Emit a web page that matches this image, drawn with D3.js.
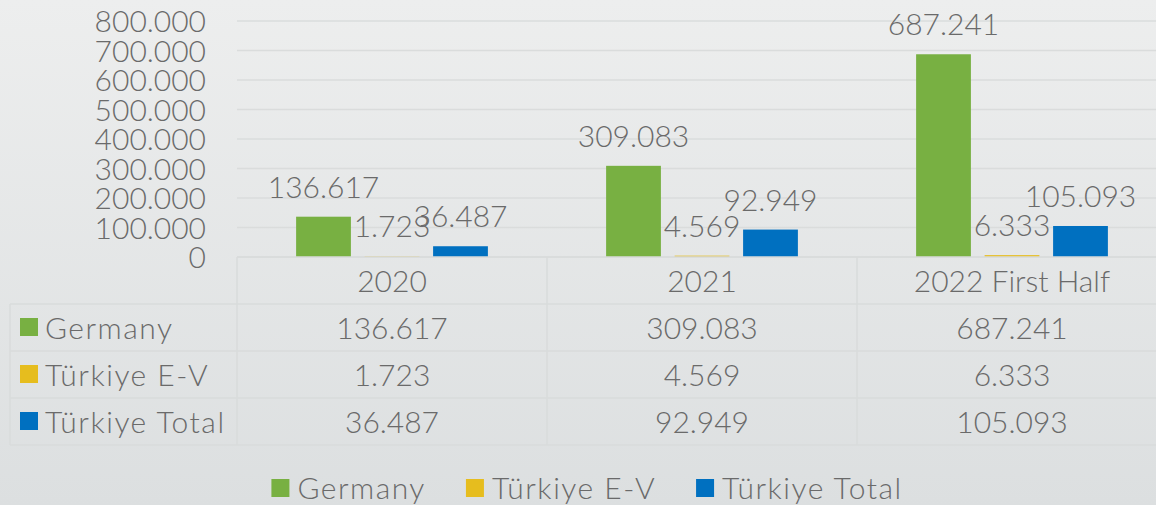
<!DOCTYPE html>
<html>
<head>
<meta charset="utf-8">
<script src="https://cdn.jsdelivr.net/npm/d3@7"></script>
<style>
  html, body { margin: 0; padding: 0; overflow: hidden; }
  text { font-family: Lato, "Open Sans", sans-serif; font-weight: 300; fill: #6a6a6a; }
  .name { letter-spacing: 1.5px; }
</style>
</head>
<body>
<div id="chart"></div>
<script>
// data
const categories = ["2020", "2021", "2022 First Half"];
const seriesNames = ["Germany", "Türkiye E-V", "Türkiye Total"];
const germany = [136617, 309083, 687241];
const turkiyeEV = [1723, 4569, 6333];
const turkiyeTotal = [36487, 92949, 105093];
const yTicks = [0, 100000, 200000, 300000, 400000, 500000, 600000, 700000, 800000];
const colors = ["#78b042", "#e6bd1e", "#0070c0"];

const seriesValues = [germany, turkiyeEV, turkiyeTotal];

const width = 1156, height = 505;
const plotLeft = 237, plotRight = 1167, plotTop = 21, plotBottom = 257;
const rowH = 47, tableLeft = 10;

const fmt = d3.formatLocale({decimal: ",", thousands: ".", grouping: [3], currency: ["", ""]}).format(",");

const svg = d3.select("#chart")
    .append("svg")
    .attr("width", width)
    .attr("height", height);

// background
const grad = svg.append("defs").append("linearGradient")
    .attr("id", "bg").attr("x1", 0).attr("y1", 0).attr("x2", 0).attr("y2", 1);
grad.append("stop").attr("offset", "0%").attr("stop-color", "#edeeee");
grad.append("stop").attr("offset", "100%").attr("stop-color", "#dcdfe0");
svg.append("rect").attr("width", width).attr("height", height).attr("fill", "url(#bg)");

// scales
const x0 = d3.scaleBand()
    .domain(categories)
    .range([plotLeft, plotRight]);

const x1 = d3.scaleBand()
    .domain(seriesNames)
    .range([0, x0.bandwidth()])
    .paddingInner(0.2)
    .paddingOuter(0.863);

const y = d3.scaleLinear()
    .domain([0, 800000])
    .range([plotBottom, plotTop]);

// gridlines
svg.append("g")
    .selectAll("line")
    .data(yTicks)
    .join("line")
    .attr("x1", plotLeft)
    .attr("x2", plotRight)
    .attr("y1", d => y(d))
    .attr("y2", d => y(d))
    .attr("stroke", "#dadcdc")
    .attr("stroke-width", 1.5);

// y labels
svg.append("g")
    .selectAll("text")
    .data(yTicks)
    .join("text")
    .attr("x", 206)
    .attr("y", d => y(d) + 11)
    .attr("text-anchor", "end")
    .style("font-size", "30px")
    .text(d => fmt(d));

// table data rows
const rows = seriesNames.map((name, i) => ({name: name, color: colors[i], values: seriesValues[i]}));

// bars
const groups = svg.append("g")
    .selectAll("g")
    .data(rows)
    .join("g")
    .attr("fill", d => d.color);

groups.selectAll("rect")
    .data(d => d.values.map((v, j) => ({name: d.name, cat: categories[j], value: v})))
    .join("rect")
    .attr("x", d => x0(d.cat) + x1(d.name))
    .attr("width", x1.bandwidth())
    .attr("y", d => y(d.value))
    .attr("height", d => plotBottom - y(d.value));

// data labels
groups.selectAll("text")
    .data(d => d.values.map((v, j) => ({name: d.name, cat: categories[j], value: v})))
    .join("text")
    .attr("x", d => x0(d.cat) + x1(d.name) + x1.bandwidth() / 2)
    .attr("y", d => y(d.value) - 19)
    .attr("text-anchor", "middle")
    .style("font-size", "30px")
    .text(d => fmt(d.value));

// data table
const table = svg.append("g");
const tableBottom = plotBottom + rowH * 4;
const lineColor = "#d9dbdb";

// horizontal lines
const hLines = [1, 2, 3, 4].map(k => plotBottom + rowH * k);
table.selectAll(".hl")
    .data(hLines)
    .join("line")
    .attr("x1", tableLeft)
    .attr("x2", plotRight)
    .attr("y1", d => d)
    .attr("y2", d => d)
    .attr("stroke", lineColor)
    .attr("stroke-width", 1.5);

table.append("line")
    .attr("x1", plotLeft).attr("x2", plotRight)
    .attr("y1", plotBottom).attr("y2", plotBottom)
    .attr("stroke", lineColor).attr("stroke-width", 1.5);

// vertical lines
table.append("line")
    .attr("x1", tableLeft).attr("x2", tableLeft)
    .attr("y1", plotBottom + rowH).attr("y2", tableBottom)
    .attr("stroke", lineColor).attr("stroke-width", 1.5);

table.selectAll(".vl")
    .data(categories.concat(["end"]))
    .join("line")
    .attr("x1", d => d === "end" ? plotRight : x0(d))
    .attr("x2", d => d === "end" ? plotRight : x0(d))
    .attr("y1", plotBottom)
    .attr("y2", tableBottom)
    .attr("stroke", lineColor)
    .attr("stroke-width", 1.5);

// header
table.selectAll(".hd")
    .data(categories)
    .join("text")
    .attr("x", d => x0(d) + x0.bandwidth() / 2)
    .attr("y", plotBottom + rowH / 2 + 11)
    .attr("text-anchor", "middle")
    .style("font-size", "30px")
    .text(d => d);

// rows
const rowG = table.selectAll(".row")
    .data(rows)
    .join("g")
    .attr("transform", (d, i) => `translate(0, ${plotBottom + rowH * (i + 1)})`);

rowG.append("rect")
    .attr("x", 20)
    .attr("y", rowH / 2 - 9.5)
    .attr("width", 18)
    .attr("height", 18)
    .attr("fill", d => d.color);

rowG.append("text")
    .attr("class", "name")
    .attr("x", 45)
    .attr("y", rowH / 2 + 11)
    .style("font-size", "30px")
    .text(d => d.name);

rowG.selectAll(".v")
    .data(d => d.values.map((v, j) => ({cat: categories[j], value: v})))
    .join("text")
    .attr("x", d => x0(d.cat) + x0.bandwidth() / 2)
    .attr("y", rowH / 2 + 11)
    .attr("text-anchor", "middle")
    .style("font-size", "30px")
    .text(d => fmt(d.value));

// bottom legend, centred under the chart
const legend = svg.append("g");
let lx = 0;
rows.forEach(r => {
    const item = legend.append("g").attr("transform", `translate(${lx}, 0)`);
    item.append("rect")
        .attr("x", 0).attr("y", -9)
        .attr("width", 18).attr("height", 18)
        .attr("fill", r.color);
    const t = item.append("text")
        .attr("class", "name")
        .attr("x", 26)
        .attr("y", 11)
        .style("font-size", "30px")
        .text(r.name);
    lx += 26 + t.node().getComputedTextLength() + 40;
});
lx -= 40;
legend.attr("transform", `translate(${587 - lx / 2}, 488)`);
</script>
</body>
</html>
